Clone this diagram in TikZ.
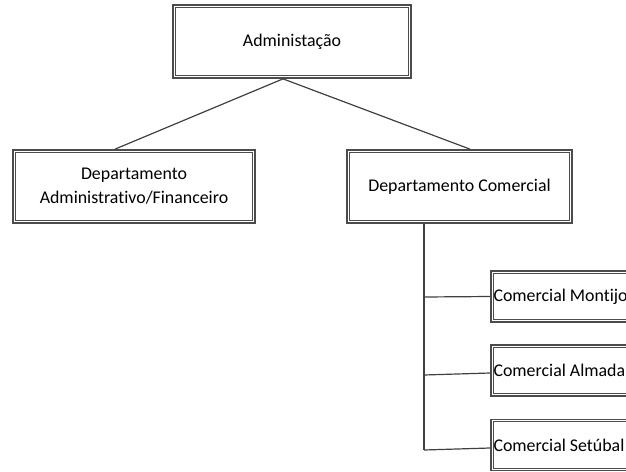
\documentclass[tikz,border=0pt]{standalone}
\usepackage{fontspec}
\setmainfont{Carlito}[Ligatures=NoCommon]
\newcommand{\branchtext}[1]{\makebox[186\unitlength][l]{#1}}
\setlength{\unitlength}{0.75pt}
\begin{document}
\begin{tikzpicture}[x=0.75pt,y=-0.75pt,
  link/.style={draw=black!75,line width=0.9pt},
  unit/.style={rectangle,draw=black!70,line width=1.3pt,fill=white,
    font=\fontsize{13.4}{18}\selectfont,align=center,inner sep=0pt},
  branch/.style={unit,minimum height=51*0.75pt,inner xsep=2pt}]
\useasboundingbox (0,0) rectangle (626,472);
\begin{scope}
\clip (0,0) rectangle (626,472);
% head office
\node[unit,minimum width=238*0.75pt,minimum height=73*0.75pt] (adm) at (292,41.5) {Administação};
% departments
\node[unit,minimum width=242*0.75pt,minimum height=73*0.75pt] (fin) at (134,186.5)
  {Departamento\\Administrativo/Financeiro};
\node[unit,minimum width=225*0.75pt,minimum height=73*0.75pt] (com) at (459.5,186.5)
  {Departamento Comercial};
% branch offices
\node[branch,anchor=west] (mon) at (490,296.5) {\branchtext{Comercial Montijo}};
\node[branch,anchor=west] (alm) at (490,370.5) {\branchtext{Comercial Almada}};
\node[branch,anchor=west] (set) at (490,445) {\branchtext{Comercial Setúbal}};
% inner line of the double frames
\foreach \n in {adm,fin,com,mon,alm,set}{
  \draw[black!70,line width=0.7pt]
    ([shift={(3.3,3.3)}]\n.north west) rectangle ([shift={(-3.3,-3.3)}]\n.south east);
}
% connectors
\coordinate (split) at ([xshift=-9*0.75pt]adm.south);
\draw[link] (split) -- ([xshift=-19*0.75pt]fin.north);
\draw[link] (split) -- ([xshift=10.5*0.75pt]com.north);
\coordinate (trunktop) at ([xshift=-35.5*0.75pt]com.south);
\coordinate (t1) at (424,297);
\coordinate (t2) at (424,375);
\coordinate (t3) at (424,450);
\draw[link] (trunktop) -- (t3);
\draw[link] (t1) -- (mon.west);
\draw[link] (t2) -- ([yshift=-2.5*0.75pt]alm.west);
\draw[link] (t3) -- ([yshift=-3*0.75pt]set.west);
\end{scope}
\end{tikzpicture}
\end{document}
